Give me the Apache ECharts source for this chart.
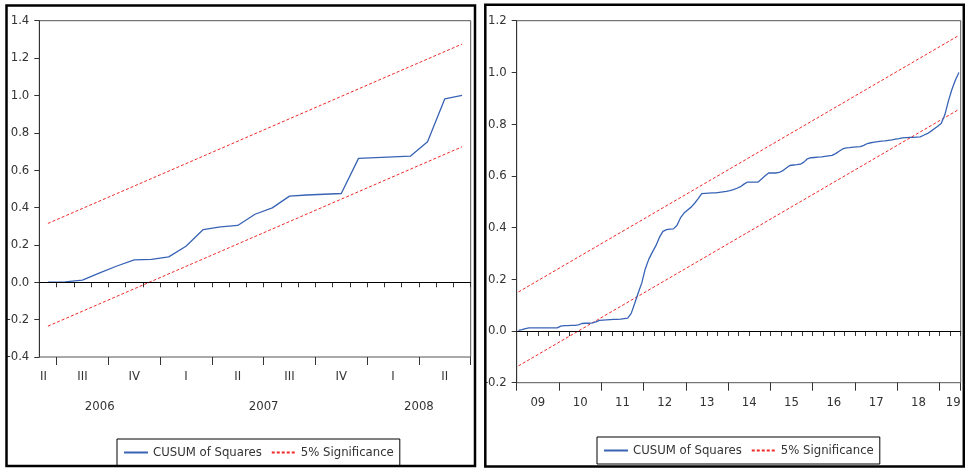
<!DOCTYPE html>
<html><head><meta charset="utf-8">
<script src="https://cdn.jsdelivr.net/npm/echarts@6/dist/echarts.min.js"></script>
<style>html,body{margin:0;padding:0;background:#fff}#c{width:965px;height:468px}</style>
</head><body><div id="c"></div>
<script>
// ---------- data ----------
function monthCats(y, m, n) {           // category labels 'YYYYMmm'
  const out = [];
  for (let i = 0; i < n; i++) {
    const yy = y + Math.floor((m - 1 + i) / 12), mm = (m - 1 + i) % 12 + 1;
    out.push(yy + 'M' + (mm < 10 ? '0' : '') + mm);
  }
  return out;
}
const leftCats = monthCats(2006, 6, 25);    // 2006M06 .. 2008M06
const rightCats = monthCats(2009, 1, 126);  // 2009M01 .. 2019M06

const leftCusum = [0.000, 0.002, 0.012, 0.050, 0.087, 0.120, 0.122, 0.136, 0.193, 0.282,
  0.297, 0.304, 0.364, 0.398, 0.461, 0.467, 0.471, 0.475, 0.663, 0.667,
  0.671, 0.675, 0.752, 0.982, 1.000];
const leftUpper = [0.315, 1.275];   // 5% band, first and last observation
const leftLower = [-0.235, 0.725];

const rightCusum = [
  0.002, 0.005, 0.009, 0.012, 0.012, 0.012, 0.012, 0.012, 0.012, 0.012,
  0.012, 0.012, 0.019, 0.021, 0.021, 0.022, 0.022, 0.024, 0.029, 0.030,
  0.030, 0.031, 0.035, 0.041, 0.042, 0.043, 0.044, 0.045, 0.045, 0.046,
  0.048, 0.050, 0.068, 0.107, 0.148, 0.186, 0.241, 0.278, 0.305, 0.330,
  0.362, 0.385, 0.392, 0.394, 0.395, 0.409, 0.438, 0.456, 0.468, 0.479,
  0.494, 0.512, 0.531, 0.532, 0.533, 0.534, 0.534, 0.536, 0.538, 0.540,
  0.543, 0.547, 0.552, 0.558, 0.568, 0.576, 0.576, 0.576, 0.576, 0.588,
  0.600, 0.611, 0.611, 0.611, 0.613, 0.620, 0.630, 0.640, 0.642, 0.643,
  0.645, 0.653, 0.666, 0.670, 0.671, 0.672, 0.673, 0.675, 0.677, 0.679,
  0.686, 0.695, 0.704, 0.708, 0.709, 0.711, 0.712, 0.713, 0.718, 0.725,
  0.728, 0.730, 0.732, 0.734, 0.735, 0.737, 0.739, 0.742, 0.744, 0.747,
  0.748, 0.749, 0.749, 0.750, 0.751, 0.757, 0.763, 0.772, 0.782, 0.792,
  0.803, 0.836, 0.889, 0.934, 0.971, 1.000];
const rightUpper = [0.151, 1.143];
const rightLower = [-0.135, 0.857];

const quarterNames = ['I', 'II', 'III', 'IV'];
const rightYearLabels = ['09', '10', '11', '12', '13', '14', '15', '16', '17', '18', '19'];
const seriesNames = ['CUSUM of Squares', '5% Significance'];

// ---------- styles ----------
const FONT = "'DejaVu Sans Condensed', 'Liberation Sans Narrow', sans-serif";
const FS = 13;
const TXT = '#333';
const BLUE = '#3863b5';
const RED = '#f02828';

// left year labels at centre of each year's visible span
const leftYearCentres = {};
(function () {
  const spans = {};
  leftCats.forEach((c, i) => {
    const y = c.slice(0, 4);
    if (!spans[y]) spans[y] = [i, i + 1]; else spans[y][1] = i + 1;
  });
  Object.keys(spans).forEach(y => { leftYearCentres[(spans[y][0] + spans[y][1]) / 2] = y; });
})();

function quarterLabel(cat, idx) {
  const m = +cat.slice(5);
  if (idx === 0 || m % 3 === 2) return quarterNames[Math.floor((m - 1) / 3)];
  return '';
}

const yAxisCommon = {
  type: 'value', interval: 0.2, splitLine: { show: false },
  axisLine: { show: true, lineStyle: { color: '#333', width: 1 } },
  axisTick: { show: true, length: 5, lineStyle: { color: '#333' } },
  axisLabel: { color: TXT, fontFamily: FONT, fontSize: FS, margin: 10, formatter: v => v.toFixed(1) }
};

function bandSeries(name, cats, ends, xi, yi) {
  return {
    name: name, type: 'line', xAxisIndex: xi, yAxisIndex: yi, symbol: 'none', silent: true,
    lineStyle: { color: RED, width: 1, type: [3, 2] }, itemStyle: { color: RED },
    data: [[cats[0], ends[0]], [cats[cats.length - 1], ends[1]]], z: 3
  };
}
function cusumSeries(cats, vals, xi, yi) {
  return {
    name: seriesNames[0], type: 'line', xAxisIndex: xi, yAxisIndex: yi, symbol: 'none',
    lineStyle: { color: BLUE, width: 1.3 }, itemStyle: { color: BLUE }, z: 4,
    data: vals,
    markLine: {
      silent: true, symbol: 'none', label: { show: false },
      lineStyle: { color: '#000', width: 1, type: 'solid' }, data: [{ yAxis: 0 }]
    }
  };
}

const legendCommon = {
  orient: 'horizontal', itemWidth: 24, itemHeight: 13, itemGap: 9,
  padding: [7, 6, 7, 6], borderColor: '#000', borderWidth: 1, backgroundColor: '#fff',
  itemStyle: { opacity: 0 },
  textStyle: { color: TXT, fontFamily: FONT, fontSize: FS, lineHeight: 13 },
  data: seriesNames, selectedMode: false
};

const chart = echarts.init(document.getElementById('c'));
chart.setOption({
  animation: false,
  backgroundColor: '#fff',
  grid: [
    { left: 39.3, top: 20.7, width: 431.4, height: 336.3, show: true, borderColor: '#555', borderWidth: 1 },
    { left: 516.7, top: 20.7, width: 444, height: 362, show: true, borderColor: '#555', borderWidth: 1 }
  ],
  xAxis: [
    // left: months, short ticks + quarter labels
    { type: 'category', gridIndex: 0, data: leftCats.map((c, i) => i === 0 ? { value: c, textStyle: { padding: [0, 9, 0, 0] } } : c),
      boundaryGap: true, position: 'bottom',
      axisLine: { show: true, lineStyle: { color: '#333' } },
      axisTick: { show: true, interval: 0, length: 5, lineStyle: { color: '#333' } },
      axisLabel: { interval: 0, color: TXT, fontFamily: FONT, fontSize: FS, margin: 13.5, formatter: quarterLabel } },
    // left: long ticks at quarter boundaries
    { type: 'category', gridIndex: 0, data: leftCats, boundaryGap: true, position: 'bottom',
      axisLine: { show: false },
      axisTick: { show: true, length: 8, interval: (i, v) => (+v.slice(5)) % 3 === 1, lineStyle: { color: '#333' } },
      axisLabel: { show: false } },
    // left: year labels
    { type: 'value', gridIndex: 0, min: 0, max: leftCats.length, interval: 0.5, position: 'bottom',
      axisLine: { show: false }, axisTick: { show: false }, splitLine: { show: false },
      axisLabel: { color: TXT, fontFamily: FONT, fontSize: FS, margin: 43, showMinLabel: true, showMaxLabel: true,
        formatter: v => leftYearCentres[v] || '' } },
    // right: months, short ticks at quarter boundaries
    { type: 'category', gridIndex: 1, data: rightCats, boundaryGap: true, position: 'bottom',
      axisLine: { show: true, lineStyle: { color: '#333' } },
      axisTick: { show: true, length: 5, interval: (i, v) => (+v.slice(5)) % 3 === 1, lineStyle: { color: '#333' } },
      axisLabel: { show: false } },
    // right: long ticks at year boundaries
    { type: 'category', gridIndex: 1, data: rightCats, boundaryGap: true, position: 'bottom',
      axisLine: { show: false },
      axisTick: { show: true, length: 8, interval: (i, v) => (+v.slice(5)) === 1, lineStyle: { color: '#333' } },
      axisLabel: { show: false } },
    // right: year labels at year centres
    { type: 'value', gridIndex: 1, min: 0, max: rightCats.length, interval: 6, position: 'bottom',
      axisLine: { show: false }, axisTick: { show: false }, splitLine: { show: false },
      axisLabel: { color: TXT, fontFamily: FONT, fontSize: FS, margin: 13.3, showMaxLabel: true, alignMaxLabel: 'right',
        formatter: v => (v % 12 === 6 ? (rightYearLabels[(v - 6) / 12] || '') : '') } }
  ],
  yAxis: [
    Object.assign({}, yAxisCommon, { gridIndex: 0, min: -0.4, max: 1.4 }),
    Object.assign({}, yAxisCommon, { gridIndex: 1, min: -0.2, max: 1.2 })
  ],
  legend: [
    Object.assign({}, legendCommon, { left: 117, top: 439 }),
    Object.assign({}, legendCommon, { left: 597, top: 437 })
  ],
  series: [
    cusumSeries(leftCats, leftCusum, 0, 0),
    bandSeries(seriesNames[1], leftCats, leftUpper, 0, 0),
    bandSeries(seriesNames[1], leftCats, leftLower, 0, 0),
    cusumSeries(rightCats, rightCusum, 3, 1),
    bandSeries(seriesNames[1], rightCats, rightUpper, 3, 1),
    bandSeries(seriesNames[1], rightCats, rightLower, 3, 1)
  ],
  graphic: [
    { type: 'rect', z: 100, silent: true, shape: { x: 6.5, y: 5.5, width: 468.5, height: 460.5 },
      style: { fill: 'none', stroke: '#000', lineWidth: 2.5 } },
    { type: 'rect', z: 100, silent: true, shape: { x: 485.3, y: 4.7, width: 478.5, height: 461.8 },
      style: { fill: 'none', stroke: '#000', lineWidth: 2.5 } }
  ]
});
</script></body></html>
